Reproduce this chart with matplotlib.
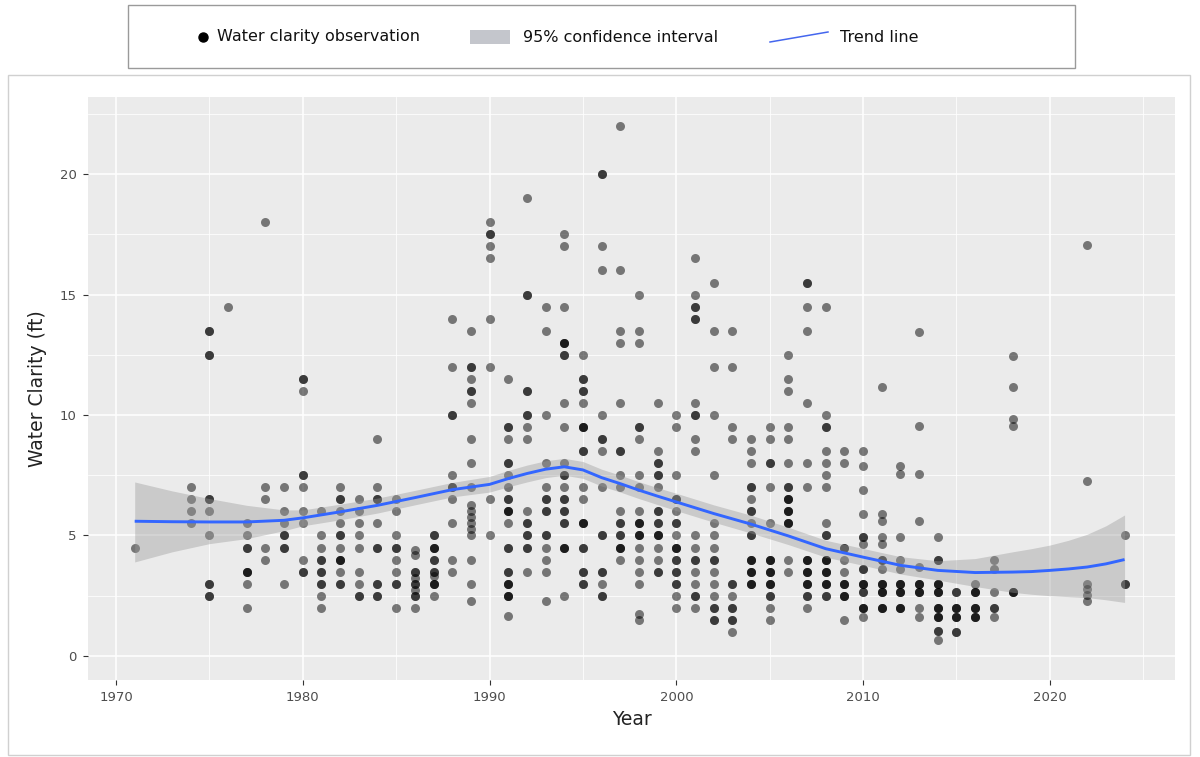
import numpy as np
import matplotlib
matplotlib.use("Agg")
import matplotlib.pyplot as plt
from matplotlib.patches import Rectangle
from matplotlib.lines import Line2D

plt.rcParams['font.family'] = ['DejaVu Sans']

# ---------------- data ----------------
obs_years = [1971, 1974, 1975, 1976, 1977, 1978, 1979, 1980, 1981, 1982, 1983, 1984,
             1985, 1986, 1987, 1988, 1989, 1990, 1991, 1992, 1993, 1994, 1995, 1996,
             1997, 1998, 1999, 2000, 2001, 2002, 2003, 2004, 2005, 2006, 2007, 2008,
             2009, 2010, 2011, 2012, 2013, 2014, 2015, 2016, 2017, 2018, 2022, 2024]

clarity_by_year = [
    [4.5],
    [7, 6.5, 6, 5.5],
    [13.5, 13.5, 12.5, 12.5, 6.5, 6.5, 6, 5, 3, 3, 2.5, 2.5],
    [14.5],
    [5.5, 5, 4.5, 4.5, 3.5, 3.5, 3.5, 3, 2],
    [18, 7, 6.5, 4.5, 4],
    [7, 6, 5.5, 5, 5, 4.5, 4.5, 3],
    [11.5, 11.5, 11, 7.5, 7.5, 7, 6, 5.5, 4, 3.5, 3.5],
    [6, 5, 4.5, 4, 4, 3.5, 3.5, 3, 3, 2.5, 2],
    [7, 6.5, 6.5, 6, 5.5, 5, 5, 4.5, 4, 4, 4, 3.5, 3, 3],
    [6.5, 6, 5.5, 5, 4.5, 3.5, 3, 2.5, 2.5],
    [9, 7, 6.5, 6.5, 5.5, 4.5, 4.5, 3, 3, 2.5, 2.5],
    [6.5, 6, 5, 4.5, 4.5, 4, 3.5, 3, 3, 2],
    [4.4, 4.2, 3.5, 3.5, 3.25, 3, 3, 2.75, 2.5, 2.5, 2],
    [5, 5, 4.5, 4.5, 4.5, 4, 4, 3.5, 3.5, 3.3, 3, 3, 3, 2.5],
    [14, 12, 10, 10, 7.5, 7, 7, 6.5, 5.5, 4, 3.5],
    [13.5, 12, 12, 11.5, 11, 11, 10.5, 9, 8, 7, 6.25, 6, 5.75, 5.5, 5.25, 5, 4, 3, 2.3],
    [18, 17.5, 17.5, 17, 16.5, 14, 12, 6.5, 5],
    [11.5, 9.5, 9.5, 9, 8, 8, 7.5, 7, 6.5, 6.5, 6, 6, 6, 5.5, 4.5, 4.5, 3.5, 3.5,
     3, 3, 3, 2.5, 2.5, 2.5, 1.65],
    [19, 15, 15, 11, 11, 10, 10, 9.5, 9, 6, 5.5, 5.5, 5, 5, 4.5, 4.5, 3.5],
    [14.5, 13.5, 10, 8, 7, 6.5, 6.5, 6, 6, 5, 5, 4.5, 4, 3.5, 2.3],
    [17.5, 17, 14.5, 13, 13, 13, 12.5, 12.5, 10.5, 9.5, 8, 7.5, 7.5, 7, 6.5, 6.5,
     6, 6, 5.5, 5.5, 4.5, 4.5, 4.5, 2.5],
    [12.5, 11.5, 11.5, 11, 11, 10.5, 9.5, 9.5, 9.5, 8.5, 8.5, 7, 6.5, 5.5, 5.5, 5.5,
     4.5, 4.5, 3.5, 3.5, 3, 3],
    [20, 20, 17, 16, 10, 9, 9, 8.5, 7, 5, 5, 3.5, 3.5, 3, 2.5, 2.5],
    [22, 16, 13.5, 13, 10.5, 8.5, 8.5, 7.5, 7, 6, 5.5, 5.5, 5, 5, 4.5, 4.5, 4.5, 4],
    [15, 13.5, 13, 9.5, 9.5, 9, 7.5, 7, 6, 5.5, 5.5, 5.5, 5, 5, 5, 4.5, 4, 3.5, 3,
     1.75, 1.5],
    [10.5, 8.5, 8, 8, 7.5, 7.5, 7, 6, 6, 5.5, 5.5, 5, 5, 5, 4.5, 4, 3.5, 3.5],
    [10, 9.5, 7.5, 6.5, 6.5, 6, 5.5, 5.5, 5, 4.5, 4.5, 4.5, 4, 4, 3.5, 3.5, 3, 3,
     2.5, 2],
    [16.5, 15, 14.5, 14.5, 14, 14, 10.5, 10, 10, 9, 8.5, 5, 4.5, 4, 4, 3.5, 3, 2.5,
     2.5, 2],
    [15.5, 13.5, 12, 10, 7.5, 5.5, 5, 4.5, 4, 4, 3.5, 3, 2.5, 2, 2, 1.5, 1.5],
    [13.5, 12, 9.5, 9, 3, 3, 2.5, 2, 2, 1.5, 1.5, 1],
    [9, 8.5, 8, 7, 7, 6.5, 6, 6, 5.5, 5, 5, 4, 4, 4, 3.5, 3.5, 3.5, 3, 3, 3],
    [9.5, 9, 8, 8, 7, 5.5, 4, 4, 4, 3.5, 3.5, 3.5, 3, 3, 3, 2.5, 2.5, 2, 1.5],
    [12.5, 11.5, 11, 9.5, 9, 8, 7, 7, 6.5, 6.5, 6.5, 6, 6, 6, 5.5, 5.5, 5.5, 4, 3.5],
    [15.5, 15.5, 14.5, 13.5, 10.5, 8, 7, 4, 4, 4, 3.5, 3.5, 3.5, 3, 3, 3, 2.5, 2.5, 2],
    [14.5, 10, 9.5, 9.5, 8.5, 8, 7.5, 7, 5.5, 5, 5, 4, 4, 4, 3.5, 3.5, 3.5, 3, 3, 3,
     2.5, 2.5],
    [8.5, 8, 4.5, 4.5, 4, 3.5, 3, 3, 3, 2.5, 2.5, 2.5, 1.5],
    [8.5, 7.9, 6.9, 5.9, 4.94, 4.94, 4.63, 3.62, 3.62, 3, 3, 3, 2.65, 2.65, 2, 2, 2, 1.6],
    [11.15, 5.9, 5.6, 4.94, 4.63, 3.97, 3.97, 3.62, 3, 3, 3, 2.65, 2.65, 2.65, 2, 2, 2],
    [7.87, 7.57, 4.94, 3.97, 3.62, 3, 3, 3, 2.65, 2.65, 2.65, 2, 2, 2],
    [13.45, 9.53, 7.57, 5.6, 3.69, 3, 3, 3, 2.65, 2.65, 2.65, 2, 1.6],
    [4.94, 3.97, 3.97, 3, 3, 3, 2.65, 2.65, 2.65, 2, 2, 2, 1.6, 1.6, 1.6, 1.03, 1.03, 0.67],
    [2.65, 2.65, 2, 2, 2, 1.6, 1.6, 1.6, 1.0, 1.0],
    [3, 2.65, 2.65, 2.65, 2, 2, 2, 1.6, 1.6, 1.6],
    [3.97, 3.62, 2.65, 2, 2, 1.6],
    [12.45, 11.15, 9.85, 9.53, 2.65, 2.65, 2.65],
    [17.05, 7.25, 3.0, 2.77, 2.52, 2.28],
    [5.0, 3.0, 3.0],
]

trend_year = [1971, 1973, 1975, 1977, 1979, 1980, 1982, 1984, 1986, 1988, 1990, 1991,
              1992, 1993, 1994, 1995, 1996, 1997, 1998, 1999, 2000, 2002, 2004, 2006,
              2008, 2010, 2012, 2014, 2016, 2018, 2019, 2020, 2021, 2022, 2023, 2024]
trend_fit = [5.59, 5.57, 5.56, 5.56, 5.63, 5.73, 5.98, 6.25, 6.57, 6.90, 7.12, 7.36,
             7.57, 7.75, 7.85, 7.72, 7.40, 7.15, 6.88, 6.63, 6.39, 5.91, 5.47, 4.98,
             4.45, 4.10, 3.76, 3.55, 3.46, 3.48, 3.50, 3.55, 3.61, 3.69, 3.82, 4.00]
trend_lower = [3.90, 4.32, 4.66, 4.87, 5.20, 5.40, 5.65, 5.93, 6.27, 6.60, 6.80, 7.02,
               7.22, 7.40, 7.50, 7.37, 7.05, 6.80, 6.53, 6.28, 6.03, 5.55, 5.10, 4.62,
               4.10, 3.76, 3.40, 3.15, 2.88, 2.64, 2.56, 2.50, 2.46, 2.42, 2.33, 2.22]
trend_upper = [7.22, 6.85, 6.53, 6.25, 6.06, 6.06, 6.30, 6.55, 6.87, 7.20, 7.45, 7.70,
               7.92, 8.10, 8.20, 8.07, 7.75, 7.50, 7.23, 6.98, 6.75, 6.27, 5.84, 5.34,
               4.80, 4.46, 4.12, 3.95, 4.04, 4.32, 4.45, 4.60, 4.80, 5.05, 5.40, 5.85]

x_ticks = [1970, 1980, 1990, 2000, 2010, 2020]
y_ticks = [0, 5, 10, 15, 20]
legend_labels = ["Water clarity observation", "95% confidence interval", "Trend line"]

# flatten observations
obs_x = np.concatenate([[y] * len(v) for y, v in zip(obs_years, clarity_by_year)])
obs_y = np.concatenate([np.asarray(v, float) for v in clarity_by_year])

# ---------------- figure ----------------
W, H = 1200, 757
fig = plt.figure(figsize=(W / 100, H / 100), dpi=100)
fig.patch.set_facecolor('white')

def fx(px):
    return px / W

def fy(py):
    return 1 - py / H

# outer border around plot area
fig.patches.append(Rectangle((fx(8), fy(755)), fx(1190) - fx(8), fy(75) - fy(755),
                             transform=fig.transFigure, facecolor='none',
                             edgecolor='#D0D0D0', linewidth=1.0, zorder=0))

ax = fig.add_axes([fx(88), fy(680), fx(1175) - fx(88), fy(97) - fy(680)])
ax.set_facecolor('#EBEBEB')
for s in ax.spines.values():
    s.set_visible(False)

ax.set_xlim(1968.5, 2026.7)
ax.set_ylim(-1.0, 23.2)
ax.set_xticks(x_ticks)
ax.set_yticks(y_ticks)
ax.set_xticks([1975, 1985, 1995, 2005, 2015, 2025], minor=True)
ax.set_yticks([2.5, 7.5, 12.5, 17.5, 22.5], minor=True)
ax.grid(which='major', color='white', linewidth=1.1, zorder=0)
ax.grid(which='minor', color='white', linewidth=0.55, zorder=0)
ax.set_axisbelow(True)
ax.tick_params(which='major', length=3.5, width=0.8, color='#333333',
               labelcolor='#4D4D4D', labelsize=9.5, pad=4.5)
ax.tick_params(which='minor', length=0)

ax.scatter(obs_x, obs_y, s=42, c='black', alpha=0.5, linewidths=0, zorder=2)
ax.fill_between(trend_year, trend_lower, trend_upper, color='#999999', alpha=0.4,
                linewidth=0, zorder=3)
ax.plot(trend_year, trend_fit, color='#3366FF', linewidth=2.1, zorder=4,
        solid_capstyle='butt', solid_joinstyle='round')

ax.set_xlabel('Year', fontsize=13.5, color='#222222', labelpad=4)
ax.set_ylabel('Water Clarity (ft)', fontsize=13.5, color='#222222', labelpad=9)

# ---------------- legend box ----------------
fig.patches.append(Rectangle((fx(128), fy(68)), fx(1075) - fx(128), fy(5) - fy(68),
                             transform=fig.transFigure, facecolor='white',
                             edgecolor='#9A9A9A', linewidth=1.0, zorder=1))
fig.lines.append(Line2D([fx(203)], [fy(37)], marker='o', markersize=6.5,
                        color='black', linestyle='none', transform=fig.transFigure))
fig.text(fx(217), fy(37), legend_labels[0], fontsize=11.5, va='center', ha='left',
         color='#111111')
fig.patches.append(Rectangle((fx(470), fy(44)), fx(510) - fx(470), fy(30) - fy(44),
                             transform=fig.transFigure, facecolor='#C4C6CC',
                             edgecolor='none'))
fig.text(fx(523), fy(37), legend_labels[1], fontsize=11.5, va='center', ha='left',
         color='#111111')
fig.lines.append(Line2D([fx(770), fx(828)], [fy(42), fy(32)], color='#4466EE',
                        linewidth=1.1, transform=fig.transFigure))
fig.text(fx(840), fy(37), legend_labels[2], fontsize=11.5, va='center', ha='left',
         color='#111111')

fig.savefig('out.png', dpi=100)
